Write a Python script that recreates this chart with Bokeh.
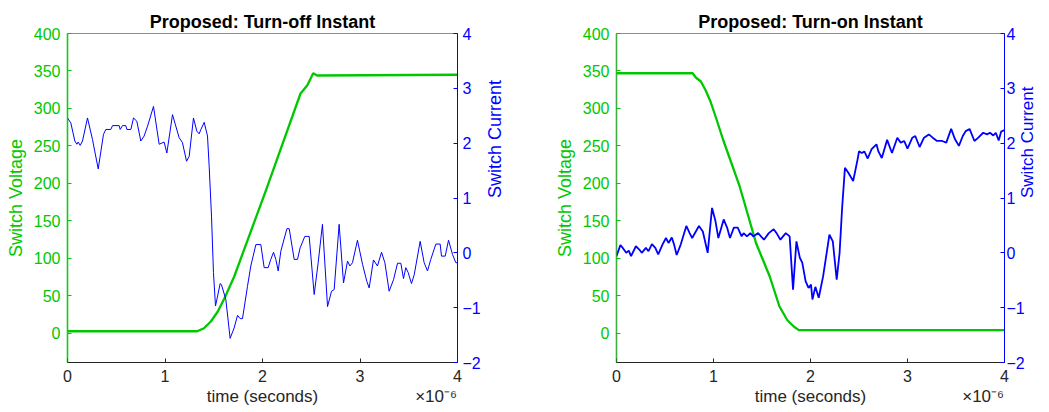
import math
from bokeh.plotting import figure
from bokeh.models import Range1d, LinearAxis, FixedTicker, CustomJSTickFormatter
from bokeh.layouts import row
from bokeh.embed import file_html
from bokeh.resources import INLINE

GREEN = "#00c800"
BLUE = "#0000ff"
DARK = "#262626"
FONT = "Liberation Sans"

# ---------------- data (time in microseconds; axis shows x10^-6 s) ----------------
titles = ["Proposed: Turn-off Instant", "Proposed: Turn-on Instant"]
x_label = "time (seconds)"
x_exponent = "\u00d710\u207b\u2076"
x_ticks = [0, 1, 2, 3, 4]
v_ticks = [0, 50, 100, 150, 200, 250, 300, 350, 400]
i_ticks = [-2, -1, 0, 1, 2, 3, 4]

# Turn-off: switch voltage
off_v_t = [0.0, 1.33, 1.40, 1.47, 1.54, 1.61, 1.71, 2.05, 2.39, 2.46, 2.52, 2.56, 4.0]
off_v = [3, 3, 7, 16, 29, 47, 76, 196, 320, 331, 347, 344, 345]

# Turn-off: switch current
off_i_t = [0.000, 0.034, 0.075, 0.096, 0.109, 0.130, 0.154, 0.205, 0.256, 0.315,
           0.369, 0.393, 0.444, 0.462, 0.530, 0.540, 0.564, 0.598, 0.609, 0.650,
           0.677, 0.711, 0.752, 0.786, 0.821, 0.882, 0.940, 0.991, 1.019, 1.077,
           1.145, 1.179, 1.221, 1.248, 1.292, 1.326, 1.350, 1.368, 1.402, 1.436,
           1.453, 1.477, 1.497, 1.518, 1.566, 1.579, 1.624, 1.668, 1.709, 1.744,
           1.771, 1.795, 1.846, 1.880, 1.932, 1.983, 2.017, 2.058, 2.085, 2.113,
           2.137, 2.161, 2.188, 2.250, 2.274, 2.325, 2.359, 2.386, 2.434, 2.479,
           2.530, 2.571, 2.615, 2.667, 2.708, 2.735, 2.786, 2.831, 2.872, 2.896,
           2.923, 2.974, 3.026, 3.070, 3.094, 3.138, 3.179, 3.221, 3.255, 3.299,
           3.344, 3.385, 3.419, 3.446, 3.470, 3.494, 3.528, 3.556, 3.617, 3.658,
           3.692, 3.726, 3.778, 3.822, 3.836, 3.874, 3.908, 3.949, 3.983, 4.000]
off_i = [2.46, 2.37, 2.04, 1.98, 2.02, 1.96, 2.04, 2.46, 2.07, 1.53,
         2.16, 2.25, 2.25, 2.32, 2.32, 2.25, 2.32, 2.32, 2.25, 2.25,
         2.46, 2.40, 2.04, 2.13, 2.31, 2.67, 1.98, 2.02, 1.82, 2.52,
         2.10, 2.01, 1.67, 1.76, 2.46, 2.22, 2.17, 2.25, 2.38, 2.13,
         1.58, 0.67, -0.36, -0.97, -0.56, -0.58, -0.85, -1.56, -1.37, -1.14,
         -1.20, -1.20, -0.61, -0.24, 0.15, 0.15, -0.27, -0.27, -0.12, 0.01,
         -0.12, -0.33, 0.03, 0.44, 0.44, -0.12, -0.12, 0.09, 0.30, 0.30,
         -0.76, -0.18, 0.52, -0.98, -0.70, -0.67, 0.52, -0.55, -0.15, -0.24,
         -0.18, 0.23, -0.21, -0.52, -0.64, -0.13, -0.24, 0.01, -0.18, -0.70,
         -0.49, -0.19, -0.19, -0.47, -0.27, -0.36, -0.56, -0.40, 0.21, -0.18,
         -0.33, -0.12, 0.16, 0.16, -0.06, -0.06, 0.23, -0.03, -0.18, -0.18]

# Turn-on: switch voltage
on_v_t = [0.0, 0.785, 0.82, 0.87, 0.92, 0.97, 1.03, 1.10, 1.27, 1.44, 1.58, 1.68, 1.76, 1.83, 1.88, 4.0]
on_v = [347, 347, 341, 336, 324, 309, 286, 258, 196, 120, 76, 36, 18, 9, 4.5, 4.5]

# Turn-on: switch current
on_i_t = [0.000, 0.040, 0.065, 0.100, 0.126, 0.150, 0.200, 0.235, 0.260, 0.303,
          0.330, 0.365, 0.400, 0.430, 0.474, 0.510, 0.536, 0.570, 0.594, 0.620,
          0.662, 0.720, 0.754, 0.780, 0.850, 0.890, 0.940, 0.985, 1.020, 1.050,
          1.105, 1.140, 1.170, 1.210, 1.250, 1.290, 1.310, 1.345, 1.380, 1.410,
          1.460, 1.520, 1.570, 1.620, 1.650, 1.690, 1.745, 1.785, 1.820, 1.855,
          1.890, 1.915, 1.950, 1.980, 2.005, 2.020, 2.050, 2.085, 2.130, 2.195,
          2.230, 2.270, 2.300, 2.325, 2.355, 2.390, 2.440, 2.485, 2.500, 2.530,
          2.555, 2.590, 2.630, 2.680, 2.700, 2.735, 2.790, 2.840, 2.895, 2.930,
          2.965, 3.000, 3.050, 3.080, 3.125, 3.170, 3.220, 3.260, 3.305, 3.357,
          3.400, 3.450, 3.490, 3.530, 3.570, 3.600, 3.640, 3.690, 3.730, 3.780,
          3.820, 3.850, 3.885, 3.910, 3.940, 3.965, 4.000]
on_i = [-0.06, 0.14, 0.09, 0.00, 0.04, -0.06, 0.12, 0.06, 0.00, 0.09,
        0.03, 0.16, 0.09, -0.03, 0.15, 0.27, 0.18, 0.28, 0.15, -0.04,
        0.15, 0.49, 0.36, 0.27, 0.49, 0.39, 0.00, 0.82, 0.58, 0.27,
        0.61, 0.46, 0.27, 0.46, 0.46, 0.30, 0.36, 0.30, 0.36, 0.30,
        0.36, 0.24, 0.36, 0.43, 0.36, 0.24, 0.36, 0.30, -0.67, 0.21,
        -0.09, -0.18, -0.52, -0.64, -0.58, -0.85, -0.62, -0.82, -0.43, 0.33,
        0.21, -0.49, 0.00, 0.79, 1.55, 1.46, 1.31, 1.70, 1.85, 1.82,
        1.85, 1.72, 1.89, 1.98, 1.85, 1.73, 2.06, 1.82, 2.10, 2.01,
        2.04, 1.90, 2.10, 2.13, 1.93, 2.10, 2.16, 2.10, 2.04, 2.04,
        2.01, 2.26, 2.07, 1.95, 2.13, 2.22, 2.26, 2.04, 2.10, 2.19,
        2.16, 2.19, 2.14, 2.19, 2.05, 2.21, 2.24]


def make_panel(title, vt, v, it, i, width, border_left, border_right, i_width,
               r_label_size, r_label_standoff, r_tick_standoff):
    p = figure(width=width, height=412, output_backend="svg", toolbar_location=None,
               x_range=Range1d(0, 4), y_range=Range1d(-38.7, 400),
               min_border_left=border_left, min_border_right=border_right,
               min_border_top=33, min_border_bottom=50)
    p.background_fill_color = "white"
    p.border_fill_color = "white"
    p.outline_line_color = "#8c8c8c"
    p.xgrid.visible = False
    p.ygrid.visible = False

    p.title.text = title
    p.title.align = "center"
    p.title.text_font = FONT
    p.title.text_font_size = "18px"
    p.title.text_font_style = "bold"
    p.title.text_color = "#000000"
    p.title.standoff = 3

    # bottom axis (ticks and numbers)
    xa = p.xaxis[0]
    xa.ticker = FixedTicker(ticks=x_ticks)
    xa.major_label_text_font = FONT
    xa.major_label_text_font_size = "16px"
    xa.major_label_text_color = DARK
    xa.major_label_standoff = 7
    xa.axis_line_color = DARK
    xa.major_tick_line_color = DARK
    xa.major_tick_in = 4
    xa.major_tick_out = 0
    xa.minor_tick_line_color = None

    # second row under the time axis: axis title (centre) and the x10^-6 multiplier (right)
    fmt = CustomJSTickFormatter(
        args=dict(lab=x_label, expo=x_exponent),
        code="return tick < 3 ? lab : expo;")
    xb = LinearAxis(ticker=FixedTicker(ticks=[2, 3.78]), formatter=fmt)
    xb.axis_line_color = None
    xb.major_tick_line_color = None
    xb.minor_tick_line_color = None
    xb.major_tick_in = 0
    xb.major_tick_out = 0
    xb.minor_tick_in = 0
    xb.minor_tick_out = 0
    xb.major_label_standoff = 2
    xb.major_label_text_font = FONT
    xb.major_label_text_font_size = "17px"
    xb.major_label_text_color = DARK
    p.add_layout(xb, "below")

    # left axis (voltage)
    ya = p.yaxis[0]
    ya.ticker = FixedTicker(ticks=v_ticks)
    ya.axis_label = "Switch Voltage"
    ya.axis_label_text_font = FONT
    ya.axis_label_text_font_size = "18px"
    ya.axis_label_text_font_style = "normal"
    ya.axis_label_text_color = GREEN
    ya.axis_label_standoff = 5
    ya.major_label_text_font = FONT
    ya.major_label_text_font_size = "16px"
    ya.major_label_text_color = GREEN
    ya.major_label_standoff = 7
    ya.axis_line_color = GREEN
    ya.axis_line_alpha = 0.55
    ya.axis_line_width = 2
    ya.major_tick_line_color = GREEN
    ya.major_tick_in = 4
    ya.major_tick_out = 0
    ya.minor_tick_line_color = None

    # right axis (current)
    p.extra_y_ranges = {"cur": Range1d(-2, 4)}
    ra = LinearAxis(y_range_name="cur", ticker=FixedTicker(ticks=i_ticks))
    ra.axis_label = "Switch Current"
    ra.axis_label_orientation = math.pi / 2
    ra.axis_label_text_font = FONT
    ra.axis_label_text_font_size = r_label_size
    ra.axis_label_text_font_style = "normal"
    ra.axis_label_text_color = BLUE
    ra.axis_label_standoff = r_label_standoff
    ra.major_label_text_font = FONT
    ra.major_label_text_font_size = "16px"
    ra.major_label_text_color = BLUE
    ra.major_label_standoff = r_tick_standoff
    ra.axis_line_color = BLUE
    ra.major_tick_line_color = BLUE
    ra.major_tick_in = 4
    ra.major_tick_out = 0
    ra.minor_tick_line_color = None
    p.add_layout(ra, "right")

    p.line(vt, v, line_color=GREEN, line_width=2.3)
    p.line(it, i, line_color=BLUE, line_width=i_width, y_range_name="cur")
    return p


p1 = make_panel(titles[0], off_v_t, off_v, off_i_t, off_i, 540, 67, 83, 1.0,
                "18px", 11, 5)
p2 = make_panel(titles[1], on_v_t, on_v, on_i_t, on_i, 509, 76, 43, 1.8,
                "17px", 0, 2)

layout = row(p1, p2)
open("out.html", "w").write(file_html(layout, INLINE))
